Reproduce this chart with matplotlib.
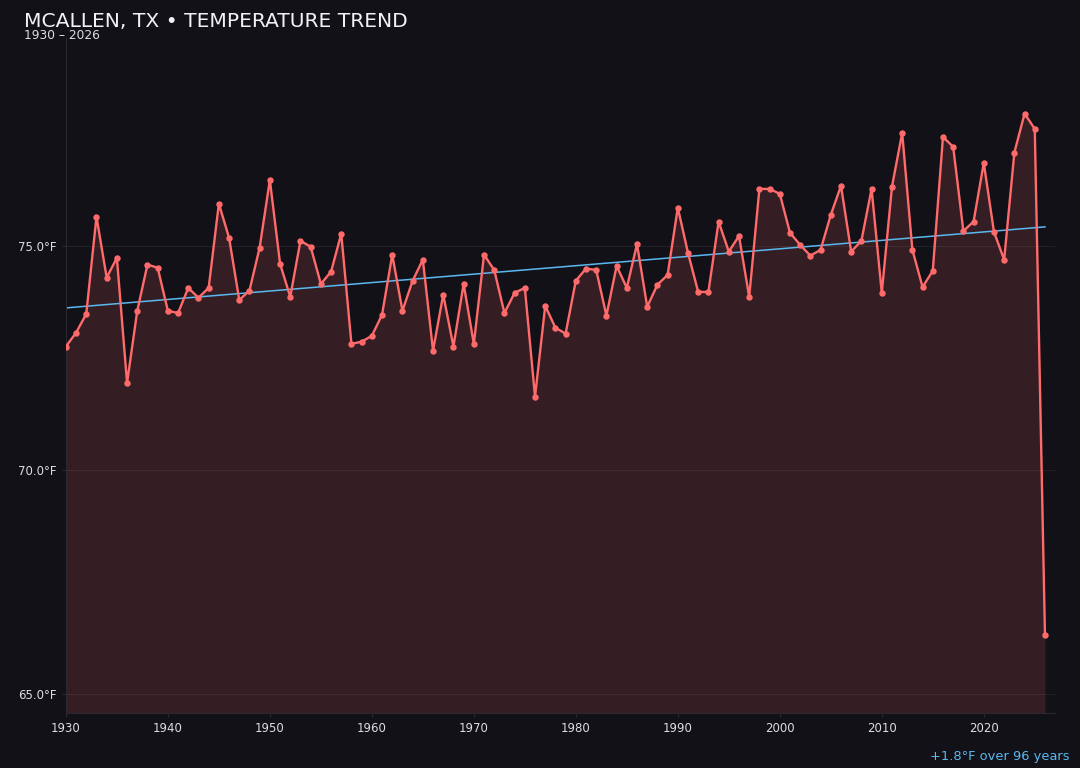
import numpy as np
import matplotlib
matplotlib.use("Agg")
import matplotlib.pyplot as plt

years = list(range(1930, 2027))
temps = [
    72.75, 73.06, 73.48, 75.65, 74.29, 74.73, 71.94, 73.55, 74.58, 74.51,  # 1930-1939
    73.55, 73.50, 74.06, 73.84, 74.06, 75.94, 75.18, 73.79, 74.00, 74.96,  # 1940-1949
    76.47, 74.60, 73.86, 75.11, 74.98, 74.15, 74.42, 75.27, 72.81, 72.86,  # 1950-1959
    72.99, 73.46, 74.80, 73.55, 74.22, 74.69, 72.66, 73.91, 72.75, 74.15,  # 1960-1969
    72.81, 74.80, 74.46, 73.50, 73.95, 74.06, 71.63, 73.66, 73.17, 73.04,  # 1970-1979
    74.22, 74.49, 74.46, 73.44, 74.55, 74.06, 75.04, 73.64, 74.13, 74.35,  # 1980-1989
    75.85, 74.84, 73.97, 73.97, 75.54, 74.87, 75.22, 73.86, 76.27, 76.27,  # 1990-1999
    76.16, 75.29, 75.02, 74.78, 74.91, 75.69, 76.34, 74.87, 75.11, 76.27,  # 2000-2009
    73.95, 76.32, 77.52, 74.91, 74.08, 74.44, 77.43, 77.21, 75.33, 75.54,  # 2010-2019
    76.85, 75.31, 74.69, 77.08, 77.95, 77.61, 66.32,                        # 2020-2026
]
title = "MCALLEN, TX • TEMPERATURE TREND"
subtitle = "1930 – 2026"
note = "+1.8°F over 96 years"
yticks = [65.0, 70.0, 75.0]
xticks = [1930, 1940, 1950, 1960, 1970, 1980, 1990, 2000, 2010, 2020]

BG = "#121117"
LINE = "#ff6b6b"
TREND = "#5ab8f0"
TXT = "#dcdce2"

x = np.array(years, dtype=float)
y = np.array(temps)

fig = plt.figure(figsize=(10.8, 7.68), dpi=100, facecolor=BG)
ax = fig.add_axes([0.061, 0.0716, 0.916, 0.879])
ax.set_facecolor(BG)

ylo, yhi = 64.57, 79.64
ax.fill_between(x, y, ylo, color=LINE, alpha=0.15, linewidth=0, zorder=1)
ax.plot(x, y, color=LINE, linewidth=1.7, marker="o", markersize=3.6, zorder=3)

coef = np.polyfit(x, y, 1)
ax.plot(x, np.polyval(coef, x), color=TREND, linewidth=1.1, zorder=2)

ax.set_xlim(1930, 2027)
ax.set_ylim(ylo, yhi)
ax.set_yticks(yticks)
ax.set_yticklabels([f"{v:.1f}°F" for v in yticks])
ax.set_xticks(xticks)
ax.grid(axis="y", color="#222127", linewidth=0.8)
ax.set_axisbelow(True)
for s in ["top", "right"]:
    ax.spines[s].set_visible(False)
for s in ["left", "bottom"]:
    ax.spines[s].set_color("#2a2930")
ax.tick_params(colors="#2a2930", labelcolor=TXT, labelsize=8.5, length=3)

fig.text(0.022, 0.9642, title, color="#f2f2f5", fontsize=14.6, va="baseline", ha="left")
fig.text(0.022, 0.9490, subtitle, color=TXT, fontsize=8.8, va="baseline", ha="left")
fig.text(0.990, 0.0104, note, color=TREND, fontsize=9.4, va="baseline", ha="right")

fig.savefig("out.png", dpi=100, facecolor=BG)
